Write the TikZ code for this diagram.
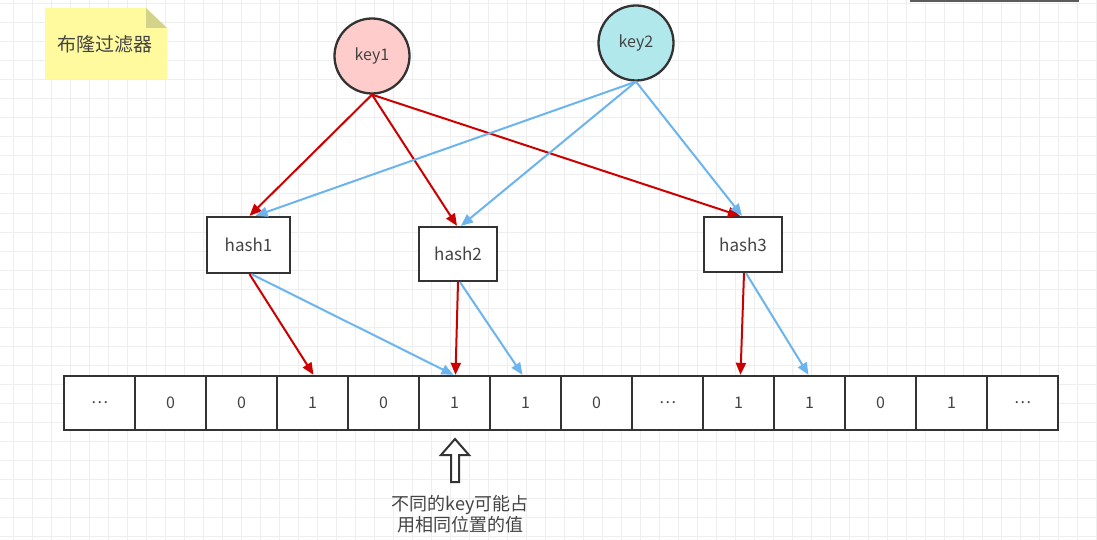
\documentclass[tikz,border=0pt]{standalone}
\usepackage{fontspec}
\setmainfont{Noto Sans CJK SC}
\usetikzlibrary{arrows.meta}
\definecolor{gridc}{HTML}{EEEEEE}
\definecolor{keyred}{HTML}{FFCCCC}
\definecolor{keycyan}{HTML}{B0E8EC}
\definecolor{linered}{HTML}{CC0000}
\definecolor{lineblue}{HTML}{6CB4EE}
\definecolor{notefill}{HTML}{FFFA9E}
\definecolor{notefold}{HTML}{D4D38C}
\definecolor{ink}{HTML}{333333}
\definecolor{txt}{HTML}{444444}
\tikzset{
  keynode/.style={circle, draw=ink, line width=2.3pt, minimum size=75pt, inner sep=0pt,
    font=\fontsize{16}{19}\selectfont, text=txt},
  hashbox/.style={rectangle, draw=ink, line width=2.3pt, fill=white, inner sep=0pt,
    font=\fontsize{17}{20}\selectfont, text=txt},
  cell/.style={rectangle, draw=ink, line width=2.3pt, fill=white, minimum width=71pt,
    minimum height=54pt, inner sep=0pt, font=\fontsize{16}{18}\selectfont, text=txt},
  redarrow/.style={draw=linered, line width=2pt, -{Triangle[length=12pt,width=10pt]}},
  bluearrow/.style={draw=lineblue, line width=2pt, -{Triangle[length=12pt,width=10pt]}},
}
\begin{document}
\begin{tikzpicture}[x=1pt,y=-1pt]
  \useasboundingbox (0,0) rectangle (1097,540);
  \fill[white] (0,0) rectangle (1097,540);
  % background grid
  \foreach \gx in {13,32,...,1097} \draw[gridc, line width=1pt] (\gx,0) -- (\gx,540);
  \foreach \gy in {4,23,...,540} \draw[gridc, line width=1pt] (0,\gy) -- (1097,\gy);
  % partial element at the top edge
  \draw[ink!80, line width=2pt] (910,1) -- (1079,1);

  % sticky note
  \fill[notefill] (45,8) -- (146,8) -- (167,28) -- (167,79) -- (45,79) -- cycle;
  \fill[notefold] (146,8) -- (167,28) -- (146,28) -- cycle;
  \node[font=\fontsize{19}{22}\selectfont, text=txt] (title) at (105,44) {布隆过滤器};

  % keys
  \node[keynode, fill=keyred] (k1) at (372,56) {key1};
  \node[keynode, fill=keycyan] (k2) at (636,43) {key2};

  % hash functions
  \node[hashbox, minimum width=83pt, minimum height=56pt] (h1) at (248.5,245) {hash1};
  \node[hashbox, minimum width=78pt, minimum height=54pt] (h2) at (458,254) {hash2};
  \node[hashbox, minimum width=78pt, minimum height=55pt] (h3) at (743,244.5) {hash3};

  % bit array
  \foreach \v [count=\i from 0] in {\dots,0,0,1,0,1,1,0,\dots,1,1,0,1,\dots}
    \node[cell] (c\i) at (64+71*\i+35.5,403) {\v};

  % key1 -> hashes
  \draw[redarrow] (k1.south) -- ([xshift=1pt]h1.north);
  \draw[redarrow] (k1.south) -- ([xshift=-1pt]h2.north);
  \draw[redarrow] (k1.south) -- ([xshift=-3pt]h3.north);
  % key2 -> hashes
  \draw[bluearrow] (k2.south) -- ([xshift=7pt]h1.north);
  \draw[bluearrow] (k2.south) -- ([xshift=3pt]h2.north);
  \draw[bluearrow] (k2.south) -- ([xshift=-1pt]h3.north);

  % hashes -> bit positions
  \draw[redarrow] ([xshift=1pt]h1.south) -- ([xshift=1pt]c3.north);
  \draw[bluearrow] ([xshift=3pt]h1.south) -- ([xshift=-1pt]c5.north);
  \draw[redarrow] ([xshift=0pt]h2.south) -- ([xshift=1pt]c5.north);
  \draw[bluearrow] ([xshift=2pt]h2.south) -- ([xshift=-3pt]c6.north);
  \draw[redarrow] ([xshift=1pt]h3.south) -- ([xshift=2pt]c9.north);
  \draw[bluearrow] ([xshift=3pt]h3.south) -- ([xshift=-1pt]c10.north);

  % hollow pointer to the shared position
  \draw[ink, line width=2pt, line join=miter, fill=white]
    (455,439) -- (469,455) -- (459,455) -- (459,482) -- (451,482) -- (451,455) -- (441,455) -- cycle;
  \node[font=\fontsize{18}{19}\selectfont, text=txt, align=center] (note) at (460,514)
    {不同的key可能占\\用相同位置的值};
\end{tikzpicture}
\end{document}
